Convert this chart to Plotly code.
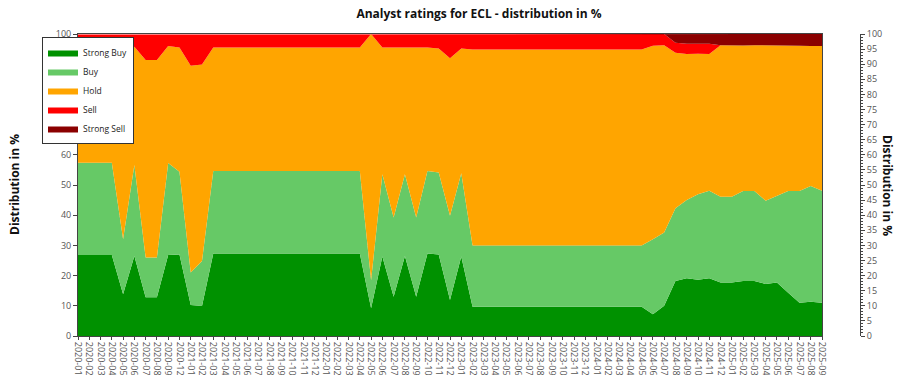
import plotly.graph_objects as go

months = [
    "2020-01", "2020-02", "2020-03", "2020-04", "2020-05", "2020-06", "2020-07", "2020-08", "2020-09", "2020-12",
    "2021-01", "2021-02", "2021-03", "2021-04", "2021-05", "2021-06", "2021-07", "2021-08", "2021-09", "2021-10",
    "2021-11", "2021-12", "2022-01", "2022-02", "2022-03", "2022-04", "2022-05", "2022-06", "2022-07", "2022-08",
    "2022-09", "2022-10", "2022-11", "2022-12", "2023-01", "2023-02", "2023-03", "2023-04", "2023-05", "2023-06",
    "2023-07", "2023-08", "2023-09", "2023-10", "2023-11", "2023-12", "2024-01", "2024-02", "2024-03", "2024-04",
    "2024-05", "2024-06", "2024-07", "2024-08", "2024-09", "2024-10", "2024-11", "2024-12", "2025-01", "2025-02",
    "2025-03", "2025-04", "2025-05", "2025-06", "2025-07", "2025-08", "2025-09",
]

strong_buy = [
    26.8, 26.8, 26.8, 26.8, 13.8, 26.5, 12.8, 12.8, 26.8, 27.0,
    10.3, 9.9, 27.3, 27.3, 27.3, 27.3, 27.3, 27.3, 27.3, 27.3,
    27.3, 27.3, 27.3, 27.3, 27.3, 27.3, 9.2, 26.3, 13.0, 26.5,
    13.0, 27.3, 27.0, 11.9, 26.3, 9.7, 9.7, 9.7, 9.7, 9.7,
    9.7, 9.7, 9.7, 9.7, 9.7, 9.7, 9.7, 9.7, 9.7, 9.7,
    9.7, 7.2, 10.0, 18.2, 19.1, 18.6, 19.1, 17.7, 17.7, 18.2,
    18.2, 17.2, 17.7, 14.3, 11.0, 11.3, 11.0,
]
buy = [
    30.6, 30.6, 30.6, 30.6, 18.2, 30.1, 13.2, 13.2, 30.5, 27.4,
    10.7, 14.9, 27.3, 27.3, 27.3, 27.3, 27.3, 27.3, 27.3, 27.3,
    27.3, 27.3, 27.3, 27.3, 27.3, 27.3, 9.3, 27.3, 26.2, 27.1,
    26.2, 27.3, 27.1, 27.9, 27.6, 20.3, 20.3, 20.3, 20.3, 20.3,
    20.3, 20.3, 20.3, 20.3, 20.3, 20.3, 20.3, 20.3, 20.3, 20.3,
    20.3, 24.8, 24.3, 24.1, 25.9, 28.3, 29.0, 28.4, 28.4, 29.8,
    29.8, 27.6, 28.8, 33.7, 37.0, 38.4, 37.1,
]
hold = [
    35.6, 35.6, 35.6, 35.6, 60.0, 39.2, 65.4, 65.4, 38.7, 41.1,
    68.5, 65.1, 40.9, 40.9, 40.9, 40.9, 40.9, 40.9, 40.9, 40.9,
    40.9, 40.9, 40.9, 40.9, 40.9, 40.9, 81.5, 41.9, 56.3, 41.9,
    56.3, 40.9, 41.1, 52.2, 41.3, 64.9, 64.9, 64.9, 64.9, 64.9,
    64.9, 64.9, 64.9, 64.9, 64.9, 64.9, 64.9, 64.9, 64.9, 64.9,
    64.9, 64.1, 62.0, 51.5, 48.4, 46.6, 45.3, 50.2, 50.1, 48.2,
    48.3, 51.5, 49.7, 48.2, 48.1, 46.3, 47.9,
]
sell = [
    6.8, 6.8, 6.8, 6.8, 8.0, 4.2, 8.6, 8.6, 4.0, 4.5,
    10.5, 10.1, 4.5, 4.5, 4.5, 4.5, 4.5, 4.5, 4.5, 4.5,
    4.5, 4.5, 4.5, 4.5, 4.5, 4.5, 0.0, 4.5, 4.5, 4.5,
    4.5, 4.5, 4.8, 8.0, 4.8, 5.1, 5.1, 5.1, 5.1, 5.1,
    5.1, 5.1, 5.1, 5.1, 5.1, 5.1, 5.1, 5.1, 5.1, 5.1,
    5.1, 3.9, 3.7, 3.3, 3.4, 3.3, 3.4, 0.0, 0.0, 0.0,
    0.0, 0.0, 0.0, 0.0, 0.0, 0.0, 0.0,
]
strong_sell = [
    0, 0, 0, 0, 0, 0, 0, 0, 0, 0,
    0, 0, 0, 0, 0, 0, 0, 0, 0, 0,
    0, 0, 0, 0, 0, 0, 0, 0, 0, 0,
    0, 0, 0, 0, 0, 0, 0, 0, 0, 0,
    0, 0, 0, 0, 0, 0, 0, 0, 0, 0,
    0, 0, 0, 2.9, 3.2, 3.2, 3.2, 3.7, 3.8, 3.8,
    3.7, 3.7, 3.8, 3.8, 3.9, 4.0, 4.0,
]

series_names = ["Strong Buy", "Buy", "Hold", "Sell", "Strong Sell"]
series_values = [strong_buy, buy, hold, sell, strong_sell]
series_colors = ["#009100", "#66c966", "#ffa500", "#ff0000", "#8b0000"]

W, H = 900, 375
L, R, T, B = 78, 20, 34, 39
pw = W - L - R
ph = H - T - B
plot_right_px = 822
x_dom_end = (plot_right_px - L) / pw
right_axis_pos = (860 - L) / pw

fig = go.Figure()
for name, vals, col in zip(series_names, series_values, series_colors):
    fig.add_trace(go.Scatter(
        x=months, y=vals, name=name, mode="lines", stackgroup="one",
        line=dict(width=0, color=col), fillcolor=col,
    ))

# invisible helper so the right axis is drawn
fig.add_trace(go.Scatter(x=[months[0]], y=[0], yaxis="y2", mode="markers",
                         marker=dict(opacity=0), showlegend=False, hoverinfo="skip"))

tick_font = dict(family="Open Sans, DejaVu Sans, sans-serif", size=9, color="#555555")

fig.update_layout(
    width=W, height=H,
    margin=dict(l=L, r=R, t=T, b=B, pad=0, autoexpand=False),
    paper_bgcolor="white", plot_bgcolor="white",
    font=dict(family="Open Sans, DejaVu Sans, sans-serif", size=10, color="#222222"),
    title=dict(text="<b>Analyst ratings for ECL - distribution in %</b>",
               x=0.5, xref="paper", xanchor="center", y=1 - 14 / H, yanchor="middle",
               font=dict(size=12, color="#111111")),
    showlegend=True,
    legend=dict(x=(42 - L) / pw, y=(H - B - 37) / ph, xanchor="left", yanchor="top",
                bgcolor="white", bordercolor="#333333", borderwidth=1,
                font=dict(size=8.5, color="#222222"), traceorder="normal",
                itemwidth=30, tracegroupgap=0),
    xaxis=dict(type="category", domain=[0, x_dom_end], range=[0, len(months) - 1],
               tickangle=90, tickfont=tick_font, ticks="outside", ticklen=3,
               tickcolor="#444444", showgrid=False, showline=True, linecolor="#444444",
               mirror=True, zeroline=False),
    yaxis=dict(range=[0, 100], dtick=10, tickfont=tick_font, ticks="outside", ticklen=4,
               tickcolor="#444444", showgrid=True, gridcolor="#e8e8e8", showline=True,
               linecolor="#444444", mirror=True, zeroline=False),
    yaxis2=dict(range=[0, 100], dtick=5, overlaying="y", anchor="free", side="right",
                position=right_axis_pos, tickfont=tick_font, ticks="outside", ticklen=4,
                tickcolor="#444444", showgrid=False, showline=True, linecolor="#444444",
                linewidth=1, zeroline=False,
                minor=dict(dtick=1, ticks="outside", ticklen=2, tickcolor="#444444")),
    annotations=[
        dict(text="<b>Distribution in %</b>", xref="paper", yref="paper",
             x=(14 - L) / pw, y=0.5, textangle=-90, showarrow=False,
             xanchor="center", yanchor="middle", font=dict(size=12, color="#111111")),
        dict(text="<b>Distribution in %</b>", xref="paper", yref="paper",
             x=(888 - L) / pw, y=0.5, textangle=90, showarrow=False,
             xanchor="center", yanchor="middle", font=dict(size=12, color="#111111")),
    ],
)

fig.write_html(
    "out.html",
    config={"displayModeBar": False},
    post_script="document.body.style.margin='0px';document.body.style.overflow='hidden';",
)
